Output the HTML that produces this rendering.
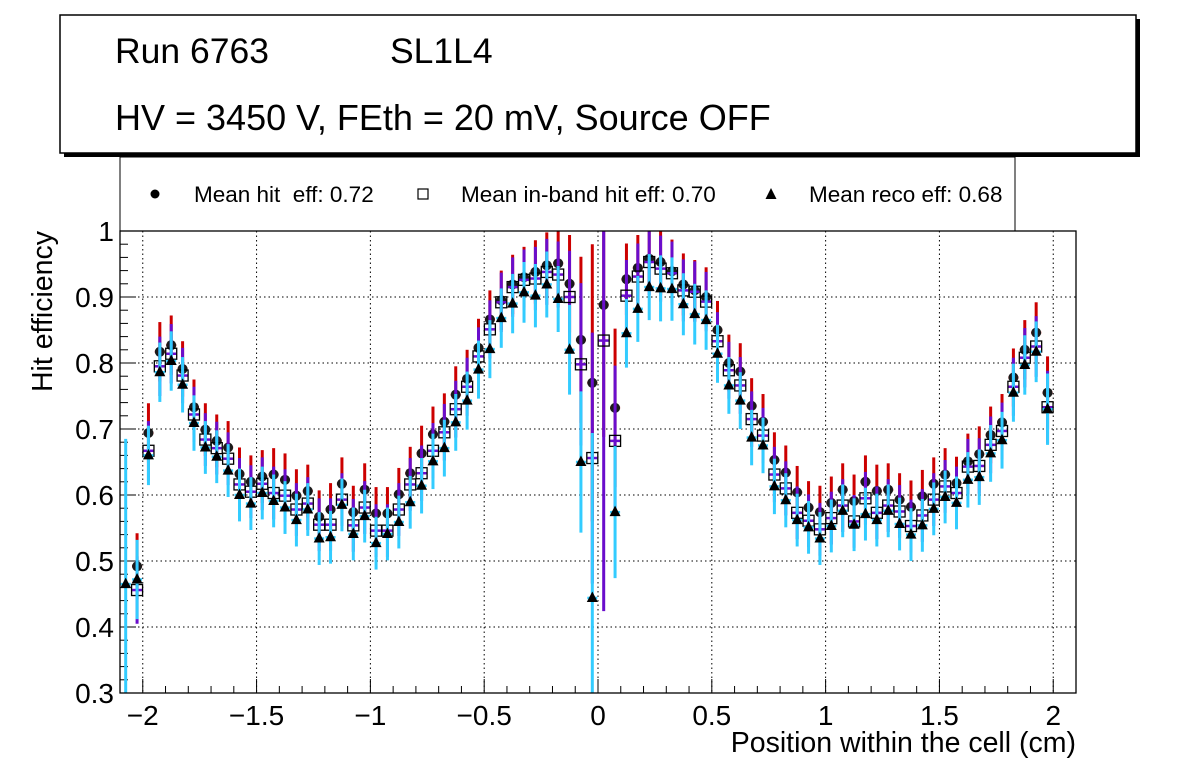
<!DOCTYPE html>
<html><head><meta charset="utf-8"><style>
html,body{margin:0;padding:0;background:#fff;}
svg{display:block;font-family:"Liberation Sans",Arial,sans-serif;}
</style></head><body>
<svg id="chart" width="1196" height="772" viewBox="0 0 1196 772" xmlns="http://www.w3.org/2000/svg">
<defs><clipPath id="pc"><rect x="120" y="231" width="956" height="462"/></clipPath></defs>
<rect width="1196" height="772" fill="#fff"/>
<g>
<rect x="64" y="19" width="1076" height="138" fill="#000"/>
<rect x="60" y="15" width="1076" height="138" fill="#fff" stroke="#000" stroke-width="1.5"/>
<text x="115" y="63" font-size="35.5">Run 6763</text>
<text x="390" y="63" font-size="35.5">SL1L4</text>
<text x="115" y="130" font-size="36">HV = 3450 V, FEth = 20 mV, Source OFF</text>
</g>
<g>
<rect x="120" y="157" width="895" height="74" fill="#fff" stroke="#000" stroke-width="1"/>
<circle cx="155" cy="194" r="4.5" fill="#000"/>
<text x="194" y="202" font-size="22.5" xml:space="preserve">Mean hit  eff: 0.72</text>
<rect x="418" y="189" width="10" height="10" fill="none" stroke="#000" stroke-width="1.2"/>
<text x="461" y="202" font-size="22.5">Mean in-band hit eff: 0.70</text>
<path d="M771,188 L776.5,199 L765.5,199 Z" fill="#000"/>
<text x="809" y="202" font-size="22.5">Mean reco eff: 0.68</text>
</g>
<g id="grid"></g>
<g id="axes"></g>
<g id="marks" clip-path="url(#pc)"></g>
<rect x="120" y="231" width="956" height="462" fill="none" stroke="#000" stroke-width="1.3"/>
<text x="1076" y="752" font-size="28.5" text-anchor="end">Position within the cell (cm)</text>
<text transform="translate(52,231) rotate(-90)" font-size="28.5" text-anchor="end">Hit efficiency</text>
</svg>
<script>
const positions = [-2.075,-2.025,-1.975,-1.925,-1.875,-1.825,-1.775,-1.725,-1.675,-1.625,-1.575,-1.525,-1.475,-1.425,-1.375,-1.325,-1.275,-1.225,-1.175,-1.125,-1.075,-1.025,-0.975,-0.925,-0.875,-0.825,-0.775,-0.725,-0.675,-0.625,-0.575,-0.525,-0.475,-0.425,-0.375,-0.325,-0.275,-0.225,-0.175,-0.125,-0.075,-0.025,0.025,0.075,0.125,0.175,0.225,0.275,0.325,0.375,0.425,0.475,0.525,0.575,0.625,0.675,0.725,0.775,0.825,0.875,0.925,0.975,1.025,1.075,1.125,1.175,1.225,1.275,1.325,1.375,1.425,1.475,1.525,1.575,1.625,1.675,1.725,1.775,1.825,1.875,1.925,1.975];
const hitEff = [null,0.492,0.694,0.817,0.827,0.791,0.733,0.699,0.682,0.672,0.632,0.620,0.628,0.631,0.623,0.599,0.606,0.567,0.578,0.617,0.574,0.608,0.572,0.572,0.601,0.633,0.663,0.692,0.711,0.752,0.776,0.823,0.866,0.895,0.919,0.930,0.938,0.948,0.951,0.920,0.835,0.770,0.888,0.732,0.927,0.944,0.958,0.953,0.939,0.919,0.910,0.900,0.850,0.800,0.787,0.735,0.711,0.653,0.634,0.604,0.581,0.574,0.588,0.608,0.591,0.620,0.606,0.608,0.593,0.582,0.598,0.617,0.631,0.618,0.651,0.662,0.691,0.710,0.778,0.820,0.846,0.755];
const inbandEff = [null,0.456,0.667,0.795,0.814,0.781,0.722,0.684,0.671,0.655,0.616,0.605,0.617,0.603,0.599,0.578,0.587,0.555,0.555,0.593,0.554,0.581,0.546,0.546,0.578,0.616,0.633,0.667,0.695,0.730,0.764,0.810,0.851,0.892,0.915,0.926,0.928,0.938,0.934,0.900,0.798,0.656,0.834,0.682,0.902,0.931,0.953,0.943,0.936,0.910,0.908,0.893,0.833,0.789,0.766,0.715,0.690,0.631,0.610,0.573,0.561,0.548,0.565,0.584,0.560,0.595,0.573,0.584,0.575,0.553,0.569,0.593,0.613,0.603,0.643,0.644,0.676,0.697,0.764,0.808,0.825,0.733];
const recoEff = [0.465,0.472,0.660,0.786,0.803,0.767,0.709,0.672,0.658,0.637,0.600,0.587,0.603,0.591,0.581,0.562,0.578,0.534,0.536,0.585,0.541,0.568,0.527,0.541,0.559,0.589,0.614,0.651,0.671,0.710,0.743,0.790,0.821,0.868,0.890,0.907,0.902,0.919,0.897,0.820,0.650,0.444,null,0.574,0.845,0.882,0.915,0.913,0.912,0.889,0.874,0.865,0.814,0.766,0.743,0.687,0.675,0.613,0.592,0.562,0.551,0.534,0.553,0.576,0.555,0.571,0.562,0.576,0.556,0.540,0.554,0.579,0.597,0.588,0.623,0.627,0.663,0.683,0.755,0.797,0.817,0.730];
const hitErr = [0,0.05,0.045,0.045,0.045,0.042,0.042,0.04,0.04,0.04,0.04,0.04,0.04,0.04,0.04,0.04,0.04,0.04,0.04,0.04,0.04,0.04,0.04,0.04,0.04,0.04,0.042,0.042,0.043,0.043,0.044,0.044,0.044,0.045,0.045,0.046,0.048,0.05,0.05,0.074,0.126,0.21,0.2,0.12,0.054,0.05,0.05,0.05,0.048,0.047,0.046,0.045,0.044,0.043,0.043,0.042,0.042,0.042,0.041,0.04,0.04,0.04,0.04,0.04,0.04,0.04,0.04,0.04,0.04,0.04,0.04,0.04,0.04,0.04,0.042,0.042,0.043,0.043,0.044,0.045,0.046,0.055];
const inbandErr = [0,0.051,0.045,0.045,0.045,0.042,0.042,0.04,0.04,0.04,0.04,0.04,0.04,0.04,0.04,0.04,0.04,0.04,0.04,0.04,0.04,0.04,0.04,0.04,0.04,0.04,0.042,0.042,0.043,0.043,0.044,0.044,0.044,0.045,0.045,0.046,0.048,0.05,0.05,0.07,0.123,0.19,0.41,0.114,0.054,0.05,0.05,0.05,0.048,0.047,0.046,0.045,0.044,0.043,0.043,0.042,0.042,0.042,0.041,0.04,0.04,0.04,0.04,0.04,0.04,0.04,0.04,0.04,0.04,0.04,0.04,0.04,0.04,0.04,0.042,0.042,0.043,0.043,0.044,0.045,0.046,0.055];
const recoErr = [0.22,0.06,0.045,0.045,0.045,0.042,0.042,0.04,0.04,0.04,0.04,0.04,0.04,0.04,0.04,0.04,0.04,0.04,0.04,0.04,0.04,0.04,0.04,0.04,0.04,0.04,0.042,0.042,0.043,0.043,0.044,0.044,0.044,0.045,0.045,0.046,0.048,0.05,0.05,0.068,0.107,0.25,0,0.1,0.052,0.05,0.05,0.05,0.048,0.047,0.046,0.045,0.044,0.043,0.043,0.042,0.042,0.042,0.041,0.04,0.04,0.04,0.04,0.04,0.04,0.04,0.04,0.04,0.04,0.04,0.04,0.04,0.04,0.04,0.042,0.042,0.043,0.043,0.044,0.045,0.046,0.054];
const xTicks = [-2,-1.5,-1,-0.5,0,0.5,1,1.5,2];
const xTickLabels = ["\u22122","\u22121.5","\u22121","\u22120.5","0","0.5","1","1.5","2"];
const yTicks = [0.3,0.4,0.5,0.6,0.7,0.8,0.9,1];
const yTickLabels = ["0.3","0.4","0.5","0.6","0.7","0.8","0.9","1"];

const NS = "http://www.w3.org/2000/svg";
const X0 = 120, X1 = 1076, Y0 = 693, Y1 = 231, XMIN = -2.1, XMAX = 2.1, YMIN = 0.3, YMAX = 1.0;
function xs(v){ return X0 + (v - XMIN) / (XMAX - XMIN) * (X1 - X0); }
function ys(v){ return Y0 - (v - YMIN) / (YMAX - YMIN) * (Y0 - Y1); }
function mk(tag, attrs, parent){ const e = document.createElementNS(NS, tag); for (const k in attrs) e.setAttribute(k, attrs[k]); parent.appendChild(e); return e; }
const grid = document.getElementById('grid'), axes = document.getElementById('axes'), marks = document.getElementById('marks');

xTicks.forEach((t, i) => {
  const gl = mk('line', {x1: xs(t), x2: xs(t), y1: Y1, y2: Y0, stroke: '#000', 'stroke-width': 1, 'stroke-dasharray': '1.5,3'}, grid);
  
  
  const tk = mk('line', {x1: xs(t), x2: xs(t), y1: Y0, y2: Y0 - 14, stroke: '#000', 'stroke-width': 1}, axes);
  
  
  const lb = mk('text', {x: xs(t), y: 725, 'font-size': 28, 'text-anchor': 'middle'}, axes);
  lb.textContent = xTickLabels[i];
  
  
});
for (let k = -21; k <= 21; k++) {
  const v = k / 10;
  if (Math.abs(v * 2 - Math.round(v * 2)) < 1e-9) continue;
  const mt = mk('line', {x1: xs(v), x2: xs(v), y1: Y0, y2: Y0 - 7, stroke: '#000', 'stroke-width': 1}, axes);
  
  
}
yTicks.forEach((t, i) => {
  const gl = mk('line', {x1: X0, x2: X1, y1: ys(t), y2: ys(t), stroke: '#000', 'stroke-width': 1, 'stroke-dasharray': '1.5,3'}, grid);
  
  
  const tk = mk('line', {x1: X0, x2: X0 + 16, y1: ys(t), y2: ys(t), stroke: '#000', 'stroke-width': 1}, axes);
  
  
  const lb = mk('text', {x: 114, y: ys(t) + 10, 'font-size': 28, 'text-anchor': 'end'}, axes);
  lb.textContent = yTickLabels[i];
  
  
});
for (let k = 30; k <= 100; k += 2) {
  if (k % 10 === 0) continue;
  const mt = mk('line', {x1: X0, x2: X0 + 8, y1: ys(k / 100), y2: ys(k / 100), stroke: '#000', 'stroke-width': 1}, axes);
  
  
}

function drawSeries(vals, errs, color, shape, name){
  const g = mk('g', {}, marks);
  
  
  positions.forEach((p, i) => {
    const v = vals[i];
    if (v === null) return;
    const cx = xs(p), cy = ys(v), e = errs[i];
    if (e > 0) {
      const eb = mk('line', {x1: cx, x2: cx, y1: ys(v + e), y2: ys(v - e), stroke: color, 'stroke-width': 3}, g);
      
      
    }
    const hb = mk('line', {x1: xs(p - 0.022), x2: xs(p + 0.022), y1: cy, y2: cy, stroke: color, 'stroke-width': 2.5}, g);
    
    
    let m;
    if (shape === 'circle') m = mk('circle', {cx: cx, cy: cy, r: 5, fill: '#1a1a1a'}, g);
    else if (shape === 'square') m = mk('rect', {x: cx - 5.5, y: cy - 5.5, width: 11, height: 11, fill: 'none', stroke: '#000', 'stroke-width': 1.3}, g);
    else m = mk('path', {d: `M${cx},${cy - 6.5} L${cx + 5.5},${cy + 4} L${cx - 5.5},${cy + 4} Z`, fill: '#000'}, g);
    
    
  });
}
drawSeries(hitEff, hitErr, '#cc0000', 'circle', 'hit-eff');
drawSeries(inbandEff, inbandErr, '#6a0dcc', 'square', 'inband-eff');
drawSeries(recoEff, recoErr, '#33ccff', 'triangle', 'reco-eff');
</script>
</body></html>
